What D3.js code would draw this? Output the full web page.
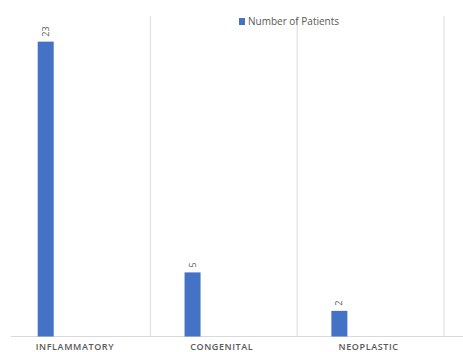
<!DOCTYPE html>
<html>
<head>
<meta charset="utf-8">
<script src="https://cdn.jsdelivr.net/npm/d3@7"></script>
<style>
  body { margin: 0; background: #fff; }
  svg { display: block; font-family: "Open Sans", "DejaVu Sans", sans-serif; }
</style>
</head>
<body>
<svg></svg>
<script>
// data
const categories = ["INFLAMMATORY", "CONGENITAL", "NEOPLASTIC"];
const patients = [23, 5, 2];
const seriesName = "Number of Patients";
const yMax = 25;

const W = 463, H = 352;
const plot = { left: 3.5, right: 444, top: 16, bottom: 336.5 };

const svg = d3.select("svg").attr("width", W).attr("height", H);

// scales
const x = d3.scaleBand().domain(categories).range([plot.left, plot.right]);
const y = d3.scaleLinear().domain([0, yMax]).range([plot.bottom, plot.top]);

// vertical separators between categories
svg.append("g")
  .selectAll("line")
  .data(categories)
  .join("line")
  .attr("x1", (d) => x(d) + x.bandwidth())
  .attr("x2", (d) => x(d) + x.bandwidth())
  .attr("y1", y(yMax))
  .attr("y2", y(0))
  .attr("stroke", "#d9d9d9")
  .attr("stroke-width", 1);

// baseline
svg.append("line")
  .attr("x1", 11)
  .attr("x2", W)
  .attr("y1", y(0))
  .attr("y2", y(0))
  .attr("stroke", "#d9d9d9")
  .attr("stroke-width", 1);

// bars sit in the left part of each band
const barOff = x.bandwidth() * 0.233;
const barW = x.bandwidth() * 0.109;

svg.append("g")
  .selectAll("rect")
  .data(patients)
  .join("rect")
  .attr("x", (d, i) => x(categories[i]) + barOff)
  .attr("y", (d) => y(d))
  .attr("width", barW)
  .attr("height", (d) => y(0) - y(d))
  .attr("fill", "#4472c4");

// value labels, rotated
svg.append("g")
  .selectAll("text")
  .data(patients)
  .join("text")
  .attr("transform", (d, i) =>
    `translate(${x(categories[i]) + barOff + barW / 2 + 3},${y(d) - 5}) rotate(-90)`)
  .attr("text-anchor", "start")
  .attr("fill", "#595959")
  .style("font-size", "9px")
  .text((d) => d);

// category labels
svg.append("g")
  .selectAll("text")
  .data(categories)
  .join("text")
  .attr("x", (d) => x(d) + x.bandwidth() / 2 - 2)
  .attr("y", 349.5)
  .attr("text-anchor", "middle")
  .attr("fill", "#595959")
  .style("font-size", "9px")
  .style("font-weight", "600")
  .style("letter-spacing", "0.6px")
  .text((d) => d);

// legend
const legend = svg.append("g").attr("transform", "translate(239,18)");
legend.append("rect").attr("width", 6).attr("height", 7).attr("fill", "#4472c4");
legend.append("text")
  .attr("x", 9)
  .attr("y", 7)
  .attr("fill", "#595959")
  .style("font-size", "10px")
  .text(seriesName);
</script>
</body>
</html>
